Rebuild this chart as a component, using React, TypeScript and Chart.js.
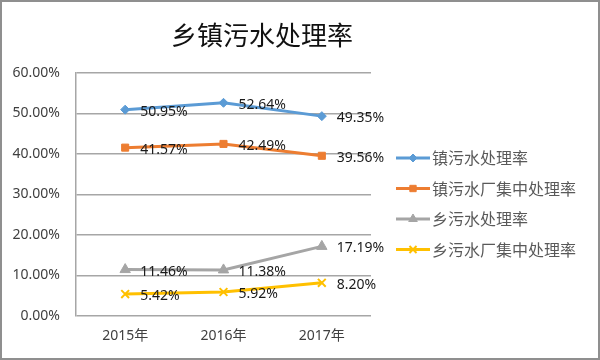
import React, { useEffect, useRef } from "react";
import { Chart, registerables } from "chart.js";
import { drawPoint } from "chart.js/helpers";

Chart.register(...registerables);

const titleText = "乡镇污水处理率";
const categories = ["2015年", "2016年", "2017年"];
const seriesNames = ["镇污水处理率", "镇污水厂集中处理率", "乡污水处理率", "乡污水厂集中处理率"];
const townRate = [50.95, 52.64, 49.35];
const townPlantRate = [41.57, 42.49, 39.56];
const villageRate = [11.46, 11.38, 17.19];
const villagePlantRate = [5.42, 5.92, 8.2];
const yTicks = [0, 10, 20, 30, 40, 50, 60];

const colors = ["#5B9BD5", "#ED7D31", "#A5A5A5", "#FFC000"];
const markers = ["rectRot", "rect", "triangle", "crossRot"];
const markerRadius = [4.5, 5, 6, 5.5];
const legendMarkerRadius = [4, 4.5, 5, 5];

const FONT_LATIN = "'Noto Sans', 'Noto Sans CJK SC', sans-serif";
const FONT_CJK = "'Noto Sans CJK SC', 'Noto Sans', sans-serif";

const titlePlugin = {
  id: "customTitle",
  afterDraw(chart: any) {
    const ctx = chart.ctx;
    ctx.save();
    ctx.font = `26px ${FONT_CJK}`;
    ctx.fillStyle = "#111111";
    ctx.textAlign = "center";
    ctx.textBaseline = "middle";
    ctx.fillText(titleText, chart.chartArea.left + 186, 33);
    ctx.restore();
  },
};

const dataLabelPlugin = {
  id: "dataLabels",
  afterDatasetsDraw(chart: any) {
    const ctx = chart.ctx;
    ctx.save();
    ctx.font = `14px ${FONT_LATIN}`;
    ctx.fillStyle = "#1a1a1a";
    ctx.textAlign = "left";
    ctx.textBaseline = "middle";
    chart.data.datasets.forEach((ds: any, di: number) => {
      const meta = chart.getDatasetMeta(di);
      meta.data.forEach((el: any, i: number) => {
        ctx.fillText(ds.data[i].toFixed(2) + "%", el.x + 15, el.y + 2);
      });
    });
    ctx.restore();
  },
};

const legendPlugin = {
  id: "customLegend",
  afterDraw(chart: any) {
    const ctx = chart.ctx;
    const area = chart.chartArea;
    const x0 = area.right + 25;
    const lineLen = 34;
    const y0 = area.top + 85;
    const step = 30.5;
    ctx.save();
    chart.data.datasets.forEach((ds: any, i: number) => {
      const y = y0 + i * step;
      ctx.strokeStyle = ds.borderColor;
      ctx.lineWidth = 3;
      ctx.beginPath();
      ctx.moveTo(x0, y);
      ctx.lineTo(x0 + lineLen, y);
      ctx.stroke();
      ctx.fillStyle = ds.pointBackgroundColor;
      ctx.strokeStyle = ds.pointBorderColor;
      ctx.lineWidth = ds.pointBorderWidth;
      drawPoint(ctx, { pointStyle: ds.pointStyle, radius: legendMarkerRadius[i], rotation: 0, borderWidth: ds.pointBorderWidth }, x0 + lineLen / 2, y);
      ctx.fillStyle = "#595959";
      ctx.font = `16px ${FONT_CJK}`;
      ctx.textAlign = "left";
      ctx.textBaseline = "middle";
      ctx.fillText(seriesNames[i], x0 + lineLen + 2, y);
    });
    ctx.restore();
  },
};

export default function App() {
  const canvasRef = useRef<HTMLCanvasElement | null>(null);

  useEffect(() => {
    if (!canvasRef.current) return;
    const allSeries = [townRate, townPlantRate, villageRate, villagePlantRate];
    const chart = new Chart(canvasRef.current, {
      type: "line",
      data: {
        labels: categories,
        datasets: allSeries.map((values, i) => ({
          label: seriesNames[i],
          data: values,
          borderColor: colors[i],
          backgroundColor: colors[i],
          borderWidth: 3,
          pointStyle: markers[i] as any,
          pointRadius: markerRadius[i],
          pointBackgroundColor: colors[i],
          pointBorderColor: colors[i],
          pointBorderWidth: i === 3 ? 2 : 1,
          tension: 0,
          fill: false,
        })),
      },
      plugins: [titlePlugin, dataLabelPlugin, legendPlugin],
      options: {
        responsive: false,
        animation: false,
        layout: { padding: { top: 71, right: 227, left: 0, bottom: 12 } },
        plugins: {
          legend: { display: false },
          title: { display: false },
          tooltip: { enabled: false },
        },
        scales: {
          x: {
            offset: true,
            grid: { display: false, drawTicks: false },
            border: { display: false },
            ticks: {
              padding: 12,
              color: "#404040",
              font: { size: 14, family: FONT_LATIN },
            },
            afterFit: (scale: any) => {
              scale.height = 30;
            },
          },
          y: {
            min: 0,
            max: 60,
            afterBuildTicks: (scale: any) => {
              scale.ticks = yTicks.map((v) => ({ value: v }));
            },
            grid: { color: "#a6a6a6", lineWidth: 1.5, drawTicks: false },
            border: { display: true, color: "#a6a6a6", width: 1.5 },
            ticks: {
              padding: 16,
              color: "#404040",
              font: { size: 14, family: FONT_LATIN },
              callback: (v: any) => Number(v).toFixed(2) + "%",
            },
            afterFit: (scale: any) => {
              scale.width = 74;
            },
          },
        },
      },
    });
    return () => chart.destroy();
  }, []);

  return (
    <div
      style={{
        position: "fixed",
        left: 0,
        top: 0,
        width: 600,
        height: 360,
        border: "2px solid #8f8f8f",
        boxSizing: "border-box",
        background: "#ffffff",
      }}
    >
      <canvas ref={canvasRef} width={596} height={356} style={{ display: "block" }} />
    </div>
  );
}
